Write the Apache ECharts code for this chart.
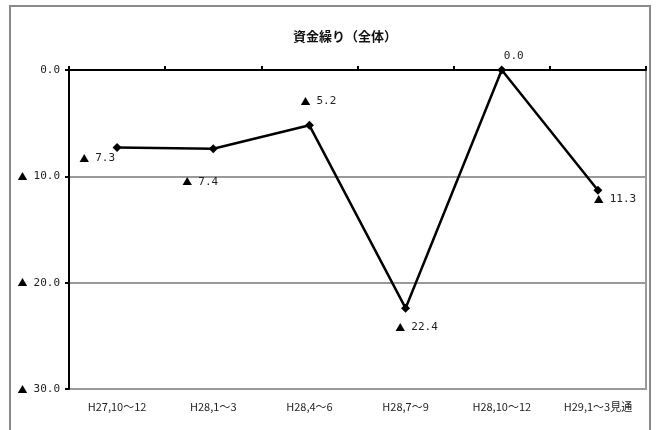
<!DOCTYPE html>
<html>
<head>
<meta charset="utf-8">
<script src="https://cdn.jsdelivr.net/npm/echarts@6/dist/echarts.min.js"></script>
<style>
  html, body { margin: 0; padding: 0; background: #fff; }
  #chart { width: 656px; height: 430px; }
</style>
</head>
<body>
<div id="chart"></div>
<script>
// Quarterly cash-flow DI (negative values shown with ▲), axis drawn downward
const categories = ['H27,10～12', 'H28,1～3', 'H28,4～6', 'H28,7～9', 'H28,10～12', 'H29,1～3見通'];
const values = [7.3, 7.4, 5.2, 22.4, 0.0, 11.3];
const yTicks = [0, 10, 20, 30];

// where each value label sits relative to its point [dx, dy]
const labelOffsets = [[-20, 11], [-13, 33], [9, -24], [11, 19], [12, -14], [17, 9]];

const FONT = '"Noto Sans CJK JP", "Noto Sans", sans-serif';
const NUM_FONT = '"DejaVu Sans Mono", "Liberation Mono", monospace';
const fmt = v => (v === 0 ? '{n|0.0}' : '{t|▲}{s|}{n|' + v.toFixed(1) + '}');
const richStyles = {
  t: { fontFamily: FONT, fontSize: 10, color: '#000' },
  s: { width: 6 },
  n: { fontFamily: NUM_FONT, fontSize: 11, color: '#222' }
};

const chart = echarts.init(document.getElementById('chart'), null, { renderer: 'canvas' });

chart.setOption({
  animation: false,
  backgroundColor: '#fff',
  title: {
    text: '資金繰り（全体）',
    left: 340,
    top: 25,
    textAlign: 'center',
    textStyle: { fontFamily: FONT, fontSize: 13, fontWeight: 'bold', color: '#111' }
  },
  graphic: [{
    type: 'rect',
    shape: { x: 10, y: 6, width: 640, height: 440 },
    style: { fill: 'none', stroke: '#8a8a8a', lineWidth: 2 },
    silent: true
  }],
  grid: {
    left: 69, right: 10, top: 70, bottom: 41,
    show: true, borderColor: '#999', borderWidth: 2, backgroundColor: 'transparent'
  },
  xAxis: [{
    type: 'category',
    data: categories,
    position: 'bottom',
    boundaryGap: true,
    axisLine: { show: false },
    axisTick: { show: false },
    axisLabel: { interval: 0, fontFamily: FONT, fontSize: 11, color: '#222', margin: 12 }
  }, {
    type: 'category',
    data: categories,
    position: 'top',
    boundaryGap: true,
    axisLine: { show: true, lineStyle: { color: '#000', width: 2 } },
    axisTick: { show: true, interval: 0, length: 4, lineStyle: { color: '#000', width: 2 } },
    axisLabel: { show: false, interval: 0 }
  }],
  yAxis: {
    type: 'value',
    inverse: true,
    min: yTicks[0],
    max: yTicks[yTicks.length - 1],
    interval: 10,
    axisLine: { show: true, lineStyle: { color: '#000', width: 2 } },
    axisTick: { show: true, length: 4, lineStyle: { color: '#000', width: 2 } },
    splitLine: { show: true, lineStyle: { color: '#999', width: 2 } },
    axisLabel: {
      margin: 9,
      formatter: v => fmt(v),
      rich: richStyles
    }
  },
  series: [{
    type: 'line',
    xAxisIndex: 0,
    data: values.map((v, i) => ({
      value: v,
      label: { offset: labelOffsets[i] }
    })),
    symbol: 'diamond',
    symbolSize: 9,
    lineStyle: { color: '#000', width: 2.5 },
    itemStyle: { color: '#000' },
    z: 5,
    label: {
      show: true,
      position: 'inside',
      align: 'center',
      verticalAlign: 'middle',
      formatter: p => fmt(p.value),
      rich: richStyles
    }
  }]
});
</script>
</body>
</html>
